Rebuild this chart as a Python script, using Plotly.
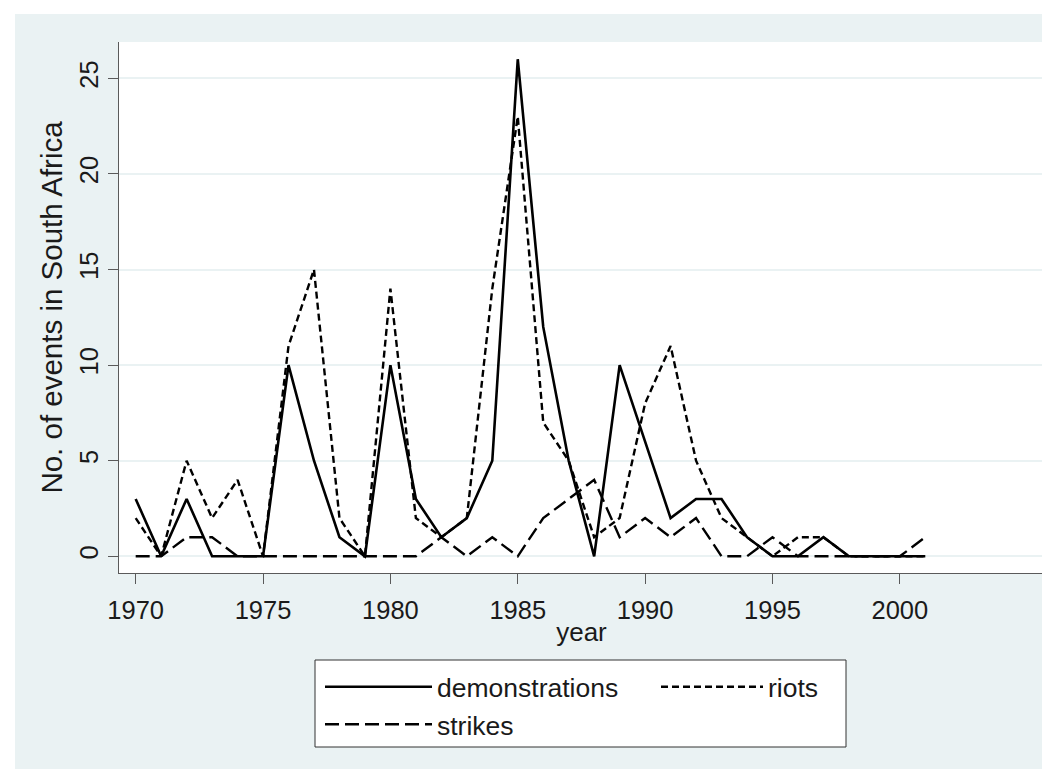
import plotly.graph_objects as go

years = list(range(1970, 2002))
demonstrations = [3, 0, 3, 0, 0, 0, 10, 5, 1, 0, 10, 3, 1, 2, 5, 26, 12, 5, 0, 10,
                  6, 2, 3, 3, 1, 0, 0, 1, 0, 0, 0, 0]
riots = [2, 0, 5, 2, 4, 0, 11, 15, 2, 0, 14, 2, 1, 2, 14, 23, 7, 5, 1, 2,
         8, 11, 5, 2, 1, 0, 1, 1, 0, 0, 0, 0]
strikes = [0, 0, 1, 1, 0, 0, 0, 0, 0, 0, 0, 0, 1, 0, 1, 0, 2, 3, 4, 1,
           2, 1, 2, 0, 0, 1, 0, 0, 0, 0, 0, 1]
x_ticks = [1970, 1975, 1980, 1985, 1990, 1995, 2000]
y_ticks = [0, 5, 10, 15, 20, 25]

BG = "#EAF2F3"
AX = "#5a5a5a"
TXT = "#1a1a1a"
FONT = "Liberation Sans, Arial, sans-serif"

fig = go.Figure()
fig.add_trace(go.Scatter(x=years, y=demonstrations, mode="lines", name="demonstrations",
                         legend="legend",
                         line=dict(color="black", width=2.6)))
fig.add_trace(go.Scatter(x=years, y=riots, mode="lines", name="riots",
                         legend="legend2",
                         line=dict(color="black", width=2.4, dash="7px,4px")))
fig.add_trace(go.Scatter(x=years, y=strikes, mode="lines", name="strikes",
                         legend="legend",
                         line=dict(color="black", width=2.4, dash="14px,6px")))

W, H = 1050, 769
L, R, T, B = 111, 14, 34, 204
pw, ph = W - L - R, H - T - B


def px_x(p):
    return (p - L) / pw


def px_y(p):
    return (H - B - p) / ph


legend_common = dict(
    orientation="v",
    xanchor="left", yanchor="top",
    bgcolor="rgba(0,0,0,0)", borderwidth=0,
    font=dict(size=26.5, color=TXT),
    traceorder="normal",
    tracegroupgap=0,
)

fig.update_layout(
    width=W, height=H,
    margin=dict(l=L, r=R, t=T, b=B, autoexpand=False),
    paper_bgcolor="white",
    plot_bgcolor="white",
    font=dict(family=FONT, size=25.5, color=TXT),
    showlegend=True,
    legend=dict(legend_common, x=px_x(312), y=px_y(655), itemwidth=107),
    legend2=dict(legend_common, x=px_x(648), y=px_y(655), itemwidth=102),
    shapes=[
        dict(type="rect", xref="paper", yref="paper", layer="below",
             x0=px_x(7), x1=px_x(W + 5), y0=px_y(H + 5), y1=px_y(6),
             fillcolor=BG, line=dict(width=0)),
        dict(type="rect", xref="paper", yref="paper", layer="below",
             x0=0, x1=1, y0=0, y1=1,
             fillcolor="white", line=dict(width=0)),
        dict(type="rect", xref="paper", yref="paper", layer="below",
             x0=px_x(307), x1=px_x(838), y0=px_y(739), y1=px_y(652),
             fillcolor="white", line=dict(color="#333333", width=1)),
    ],
    xaxis=dict(
        range=[1969.345, 2005.66],
        tickvals=x_ticks, ticktext=[str(v) for v in x_ticks],
        showgrid=False, zeroline=False,
        showline=True, linecolor=AX, linewidth=1.2,
        ticks="outside", ticklen=10, tickcolor=AX, tickwidth=1.2,
        ticklabelstandoff=4,
        tickfont=dict(size=25.5),
        title=dict(text="year", font=dict(size=26), standoff=0),
    ),
    yaxis=dict(
        range=[-0.873, 26.9],
        tickvals=y_ticks, ticktext=[str(v) for v in y_ticks],
        tickangle=-90,
        showgrid=True, gridcolor=BG, gridwidth=1.5,
        zeroline=False,
        showline=True, linecolor=AX, linewidth=1.2,
        ticks="outside", ticklen=10, tickcolor=AX, tickwidth=1.2,
        tickfont=dict(size=25.5),
        title=dict(text="No. of events in South Africa", font=dict(size=29.5), standoff=3),
    ),
)

fig.write_html("out.html")
